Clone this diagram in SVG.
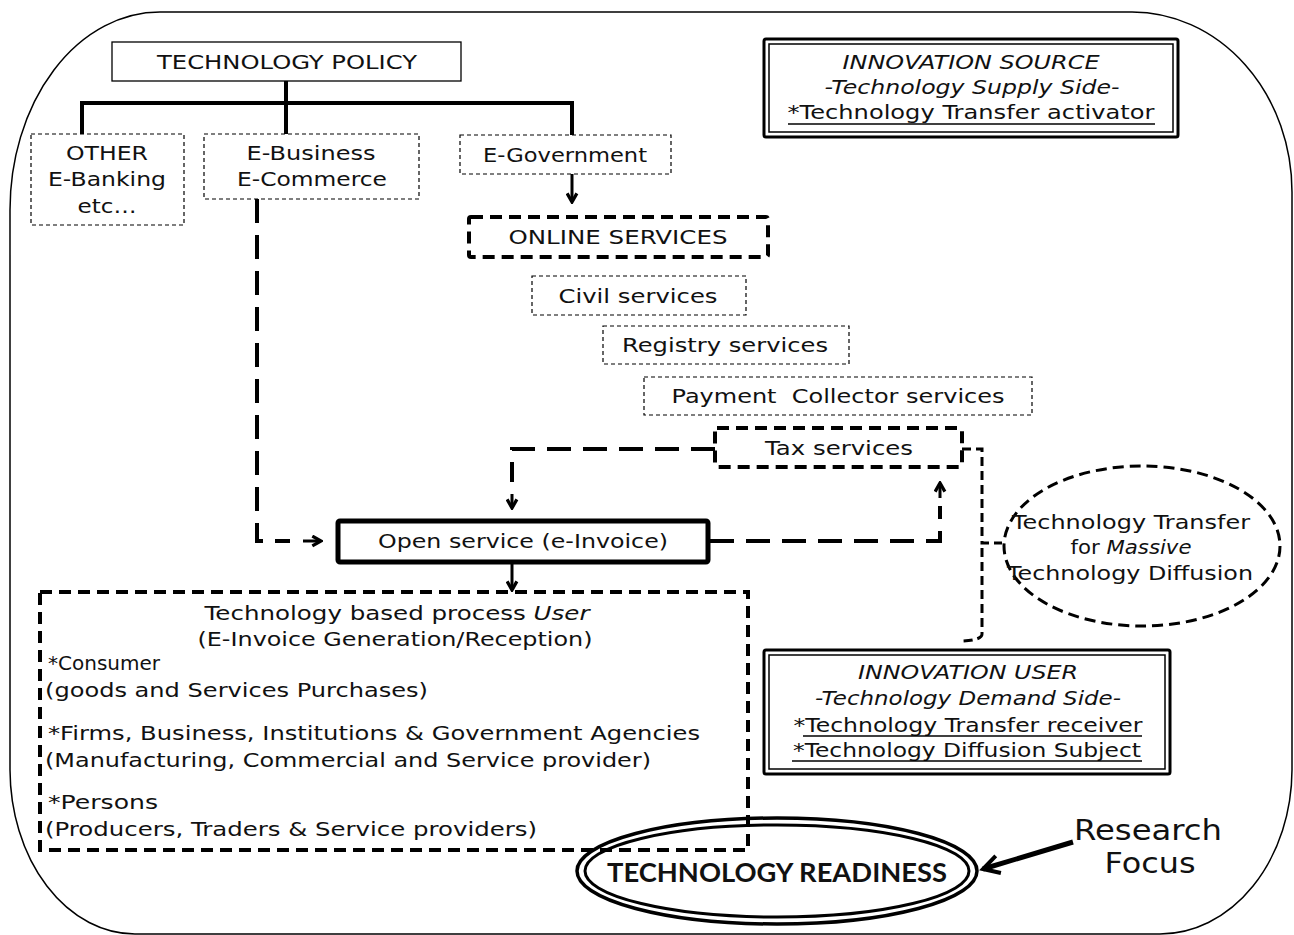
<svg xmlns="http://www.w3.org/2000/svg" width="1294" height="935" viewBox="0 0 1294 935">
<style>
.t{font-family:"DejaVu Sans","Liberation Sans",sans-serif;font-size:19px;fill:#111}
.g{font-family:"DejaVu Sans","Liberation Sans",sans-serif;font-size:20px;fill:#111}
.i{font-style:italic}
.box{fill:#fff;stroke:#000;stroke-width:1.3}
.thin{fill:#fff;stroke:#000;stroke-width:1.2;stroke-dasharray:4 3}
.thick{fill:#fff;stroke:#000;stroke-width:4;stroke-dasharray:12 7}
.con{fill:none;stroke:#000;stroke-width:4}
.dash{fill:none;stroke:#000;stroke-width:4;stroke-dasharray:24 12}
.dot{fill:none;stroke:#000;stroke-width:3;stroke-dasharray:9 5}
.ul{stroke:#000;stroke-width:1.6}
</style>
<defs>
<marker id="ah" viewBox="0 0 12 12" refX="10" refY="6" markerWidth="13" markerHeight="13" markerUnits="userSpaceOnUse" orient="auto"><path d="M2,1.5 L10,6 L2,10.5" fill="none" stroke="#000" stroke-width="3"/></marker>
<marker id="ahb" viewBox="0 0 12 12" refX="10" refY="6" markerWidth="24" markerHeight="24" markerUnits="userSpaceOnUse" orient="auto"><path d="M2,1.5 L10,6 L2,10.5" fill="none" stroke="#000" stroke-width="2"/></marker>
</defs>
<rect width="1294" height="935" fill="#fff"/>
<path id="frame" d="M160,12 H1132 A160,180 0 0 1 1292,192 V770 A132,165 0 0 1 1160,934 H135 A125,165 0 0 1 10,770 V210 A150,198 0 0 1 160,12 Z" fill="none" stroke="#000" stroke-width="1.5"/>

<g id="connectors">
<path class="con" d="M286,81 V103 M80,103 H574 M82,103 V134 M286,103 V134 M572,103 V135"/>
<path d="M572,174 V202" fill="none" stroke="#000" stroke-width="3" marker-end="url(#ah)"/>
<path class="dash" d="M257,199 V541 H290"/>
<path d="M303,541 H321" fill="none" stroke="#000" stroke-width="3" marker-end="url(#ah)"/>
<path class="dash" d="M715,449 H512 V482"/>
<path d="M512,494 V508" fill="none" stroke="#000" stroke-width="3" marker-end="url(#ah)"/>
<path class="dash" d="M710,541 H940 V506"/>
<path d="M940,498 V483" fill="none" stroke="#000" stroke-width="3" marker-end="url(#ah)"/>
<path d="M512,562 V590" fill="none" stroke="#000" stroke-width="3" marker-end="url(#ah)"/>
<path class="dot" d="M962,449 H982 V543 H1002 M982,548 V634 Q982,640 963,641"/>
<path d="M1073,842 L983,869" fill="none" stroke="#000" stroke-width="5" marker-end="url(#ahb)"/>
</g>

<g id="tech-policy">
<rect class="box" x="112" y="42" width="349" height="39"/>
<text class="t" x="287" y="69" text-anchor="middle" textLength="260" lengthAdjust="spacingAndGlyphs">TECHNOLOGY POLICY</text>
</g>

<g id="innovation-source">
<rect x="764" y="39" width="414" height="98" fill="#fff" stroke="#000" stroke-width="3" rx="2"/>
<rect x="769" y="44" width="404" height="88" fill="none" stroke="#000" stroke-width="1.5"/>
<text class="t i" x="971" y="69" text-anchor="middle" textLength="257" lengthAdjust="spacingAndGlyphs">INNOVATION SOURCE</text>
<text class="t i" x="972" y="94" text-anchor="middle" textLength="295" lengthAdjust="spacingAndGlyphs">-Technology Supply Side-</text>
<text class="t" x="971" y="119" text-anchor="middle" textLength="367" lengthAdjust="spacingAndGlyphs">*Technology Transfer activator</text>
<line class="ul" x1="788" y1="124" x2="1155" y2="124"/>
</g>

<g id="other">
<rect class="thin" x="31" y="134" width="153" height="91"/>
<text class="t" x="107" y="160" text-anchor="middle" textLength="82" lengthAdjust="spacingAndGlyphs">OTHER</text>
<text class="t" x="107" y="186" text-anchor="middle" textLength="118" lengthAdjust="spacingAndGlyphs">E-Banking</text>
<text class="t" x="107" y="213" text-anchor="middle" textLength="59" lengthAdjust="spacingAndGlyphs">etc…</text>
</g>

<g id="e-business">
<rect class="thin" x="204" y="134" width="215" height="65"/>
<text class="t" x="311" y="160" text-anchor="middle" textLength="129" lengthAdjust="spacingAndGlyphs">E-Business</text>
<text class="t" x="312" y="186" text-anchor="middle" textLength="150" lengthAdjust="spacingAndGlyphs">E-Commerce</text>
</g>

<g id="e-government">
<rect class="thin" x="460" y="135" width="211" height="39"/>
<text class="t" x="565" y="162" text-anchor="middle" textLength="164" lengthAdjust="spacingAndGlyphs">E-Government</text>
</g>

<g id="online-services">
<rect class="thick" x="469" y="217" width="299" height="40" rx="2"/>
<text class="t" x="618" y="244" text-anchor="middle" textLength="219" lengthAdjust="spacingAndGlyphs">ONLINE SERVICES</text>
</g>

<g id="civil">
<rect class="thin" x="532" y="276" width="214" height="39"/>
<text class="t" x="638" y="303" text-anchor="middle" textLength="159" lengthAdjust="spacingAndGlyphs">Civil services</text>
</g>

<g id="registry">
<rect class="thin" x="603" y="326" width="246" height="38"/>
<text class="t" x="725" y="352" text-anchor="middle" textLength="206" lengthAdjust="spacingAndGlyphs">Registry services</text>
</g>

<g id="payment">
<rect class="thin" x="644" y="377" width="388" height="38"/>
<text class="t" x="838" y="403" text-anchor="middle" xml:space="preserve" textLength="333" lengthAdjust="spacingAndGlyphs">Payment  Collector services</text>
</g>

<g id="tax">
<rect class="thick" x="715" y="428" width="247" height="39" rx="2"/>
<text class="t" x="839" y="455" text-anchor="middle" textLength="148" lengthAdjust="spacingAndGlyphs">Tax services</text>
</g>

<g id="open-service">
<rect x="338" y="521" width="370" height="41" fill="#fff" stroke="#000" stroke-width="5" rx="2"/>
<text class="t" x="523" y="548" text-anchor="middle" textLength="290" lengthAdjust="spacingAndGlyphs">Open service (e-Invoice)</text>
</g>

<g id="tech-transfer">
<ellipse cx="1142" cy="546" rx="138" ry="80" fill="none" stroke="#000" stroke-width="3" stroke-dasharray="11 6"/>
<text class="t" x="1131" y="529" text-anchor="middle" textLength="238" lengthAdjust="spacingAndGlyphs">Technology Transfer</text>
<text class="t" x="1131" y="554" text-anchor="middle" textLength="121" lengthAdjust="spacingAndGlyphs">for <tspan class="i">Massive</tspan></text>
<text class="t" x="1130" y="580" text-anchor="middle" textLength="246" lengthAdjust="spacingAndGlyphs">Technology Diffusion</text>
</g>

<g id="innovation-user">
<rect x="764" y="650" width="406" height="124" fill="#fff" stroke="#000" stroke-width="3" rx="2"/>
<rect x="769" y="655" width="396" height="114" fill="none" stroke="#000" stroke-width="1.5"/>
<text class="t i" x="968" y="679" text-anchor="middle" textLength="220" lengthAdjust="spacingAndGlyphs">INNOVATION USER</text>
<text class="t i" x="968" y="705" text-anchor="middle" textLength="306" lengthAdjust="spacingAndGlyphs">-Technology Demand Side-</text>
<text class="t" x="968" y="732" text-anchor="middle" textLength="349" lengthAdjust="spacingAndGlyphs">*Technology Transfer receiver</text>
<line class="ul" x1="803" y1="736" x2="1142" y2="736"/>
<text class="t" x="967" y="757" text-anchor="middle" textLength="348" lengthAdjust="spacingAndGlyphs">*Technology Diffusion Subject</text>
<line class="ul" x1="792" y1="761" x2="1142" y2="761"/>
</g>

<g id="tech-readiness">
<ellipse cx="777" cy="871" rx="200" ry="53" fill="none" stroke="#000" stroke-width="3.5"/>
<ellipse cx="777" cy="871" rx="192" ry="46" fill="none" stroke="#000" stroke-width="3"/>
<text x="777" y="882" text-anchor="middle" font-family="Lato,'Open Sans',sans-serif" font-weight="700" font-size="27" fill="#111" textLength="340" lengthAdjust="spacingAndGlyphs">TECHNOLOGY READINESS</text>
</g>

<g id="user-process">
<rect x="40" y="592" width="708" height="258" fill="none" stroke="#000" stroke-width="4" stroke-dasharray="12 7"/>
<text class="g" x="397" y="620" text-anchor="middle" textLength="385" lengthAdjust="spacingAndGlyphs">Technology based process <tspan class="i">User</tspan></text>
<text class="g" x="395" y="646" text-anchor="middle" textLength="395" lengthAdjust="spacingAndGlyphs">(E-Invoice Generation/Reception)</text>
<text class="g" x="48" y="670" textLength="112" lengthAdjust="spacingAndGlyphs">*Consumer</text>
<text class="g" x="45" y="697" textLength="383" lengthAdjust="spacingAndGlyphs">(goods and Services Purchases)</text>
<text class="g" x="48" y="740" textLength="652" lengthAdjust="spacingAndGlyphs">*Firms, Business, Institutions &amp; Government Agencies</text>
<text class="g" x="45" y="767" textLength="606" lengthAdjust="spacingAndGlyphs">(Manufacturing, Commercial and Service provider)</text>
<text class="g" x="48" y="809" textLength="110" lengthAdjust="spacingAndGlyphs">*Persons</text>
<text class="g" x="45" y="836" textLength="492" lengthAdjust="spacingAndGlyphs">(Producers, Traders &amp; Service providers)</text>
</g>

<g id="research-focus">
<text class="t" x="1148" y="840" text-anchor="middle" style="font-size:28px" textLength="148" lengthAdjust="spacingAndGlyphs">Research</text>
<text class="t" x="1150" y="873" text-anchor="middle" style="font-size:28px" textLength="91" lengthAdjust="spacingAndGlyphs">Focus</text>
</g>
</svg>
